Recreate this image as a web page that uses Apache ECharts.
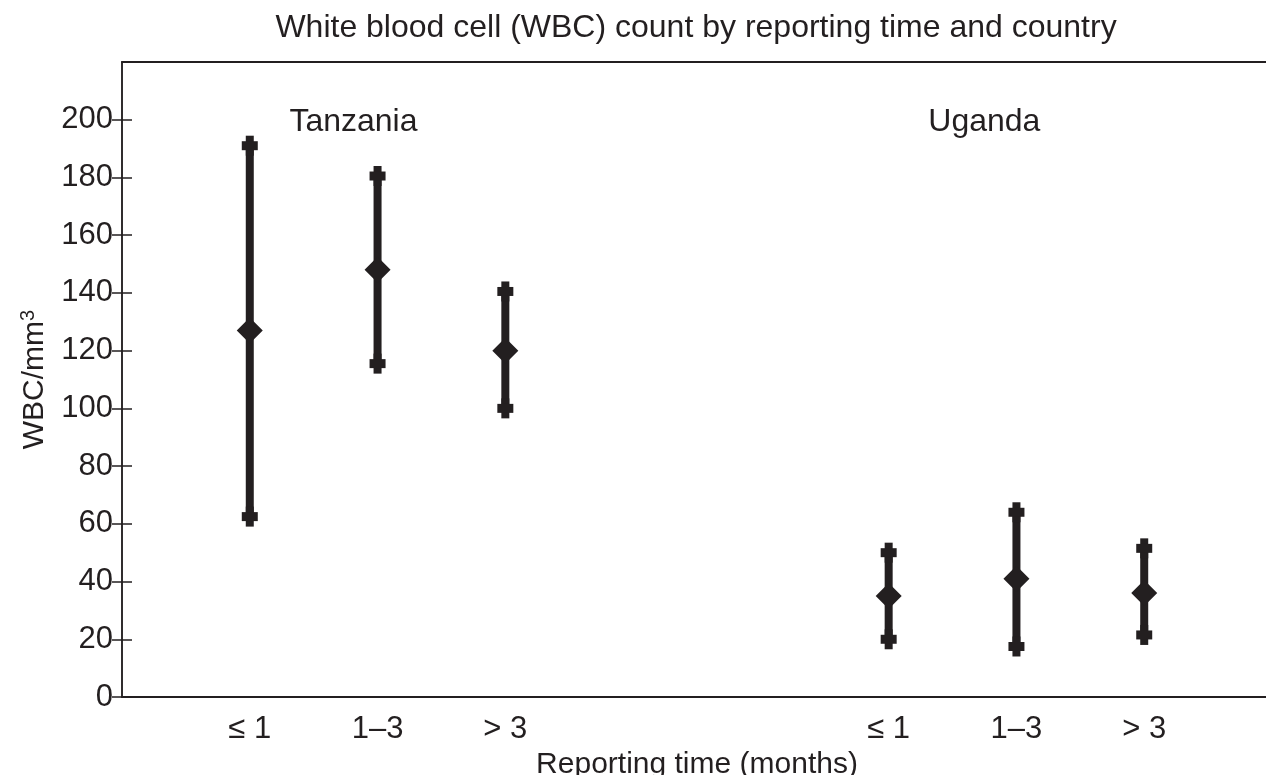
<!DOCTYPE html>
<html>
<head>
<meta charset="utf-8">
<script src="https://cdn.jsdelivr.net/npm/echarts@6/dist/echarts.min.js"></script>
<style>
html,body{margin:0;padding:0;background:#fff;overflow:hidden;}
#chart{width:1266px;height:775px;}
</style>
</head>
<body>
<div id="chart"></div>
<script>
const positions = [1, 2, 3, 6, 7, 8];
const tickLabels = ['≤ 1', '1–3', '> 3', '≤ 1', '1–3', '> 3'];
const countries = ['Tanzania', 'Uganda'];
const countryLabelX = [1.31, 6.31];
const countryLabelY = [199, 199];
const meanWBC = [127, 148, 120, 35, 41, 36];
const lowWBC = [62.5, 115.5, 100, 20, 17.5, 21.5];
const highWBC = [191, 180.5, 140.5, 50, 64, 51.5];
const yTicks = [0, 20, 40, 60, 80, 100, 120, 140, 160, 180, 200];

const INK = '#231f20';
const FONT = '"Liberation Sans", Arial, Helvetica, sans-serif';

const barData = positions.map((x, i) => [x, lowWBC[i], highWBC[i], meanWBC[i]]);
const labelData = countries.map((c, i) => [countryLabelX[i], countryLabelY[i], i]);

const chart = echarts.init(document.getElementById('chart'));
chart.setOption({
  animation: false,
  backgroundColor: '#fff',
  title: {
    text: 'White blood cell (WBC) count by reporting time and country',
    left: 691, top: 7, textAlign: 'center',
    textStyle: { fontFamily: FONT, fontSize: 32, fontWeight: 'normal', color: INK }
  },
  grid: { left: 122, right: -6, top: 62, bottom: 78, outerBoundsMode: 'none', containLabel: false },
  xAxis: [{
    type: 'value', min: 0, max: 9, interval: 1, position: 'bottom',
    axisLine: { show: true, lineStyle: { color: INK, width: 2 } },
    axisTick: { show: false },
    splitLine: { show: false },
    axisLabel: {
      fontFamily: FONT, fontSize: 31, color: INK, margin: 17,
      customValues: positions,
      formatter: v => { const k = positions.indexOf(v); return k >= 0 ? tickLabels[k] : ''; }
    },
    name: 'Reporting time (months)', nameLocation: 'middle', nameGap: 44,
    nameTextStyle: { fontFamily: FONT, fontSize: 30, color: INK }
  }, {
    type: 'value', min: 0, max: 9, position: 'top',
    axisLine: { show: true, onZero: false, lineStyle: { color: INK, width: 2 } },
    axisTick: { show: false }, axisLabel: { show: false }, splitLine: { show: false }
  }],
  yAxis: [{
    type: 'value', min: 0, max: 220, interval: 20, position: 'left',
    axisLine: { show: true, lineStyle: { color: INK, width: 1.5 } },
    axisTick: { show: true, inside: true, length: 10, customValues: yTicks, lineStyle: { color: INK, width: 1.5 } },
    splitLine: { show: false },
    axisLabel: {
      fontFamily: FONT, fontSize: 31, color: INK, margin: 9,
      customValues: yTicks,
      formatter: v => String(v)
    },
    name: '{a|WBC/mm}{s|3}', nameLocation: 'middle', nameGap: 70, nameRotate: 90,
    nameTextStyle: {
      fontFamily: FONT, fontSize: 30, color: INK,
      rich: {
        a: { fontFamily: FONT, fontSize: 30, color: INK },
        s: { fontFamily: FONT, fontSize: 20, color: INK, verticalAlign: 'top', padding: [0, 0, 14, 0] }
      }
    }
  }, {
    type: 'value', min: 0, max: 220, interval: 20, position: 'right',
    axisLine: { show: true, lineStyle: { color: INK, width: 1.5 } },
    axisTick: { show: true, inside: true, length: 10, customValues: yTicks, lineStyle: { color: INK, width: 1.5 } },
    axisLabel: { show: false }, splitLine: { show: false }
  }],
  series: [{
    type: 'custom',
    xAxisIndex: 0, yAxisIndex: 0,
    data: barData,
    renderItem: (params, api) => {
      const x = api.value(0);
      const pLo = api.coord([x, api.value(1)]);
      const pHi = api.coord([x, api.value(2)]);
      const pM = api.coord([x, api.value(3)]);
      const st = { fill: INK };
      const cross = p => [
        { type: 'rect', shape: { x: p[0] - 4, y: p[1] - 10, width: 8, height: 20 }, style: st },
        { type: 'rect', shape: { x: p[0] - 8, y: p[1] - 4.5, width: 16, height: 9 }, style: st }
      ];
      return {
        type: 'group',
        children: [
          { type: 'rect', shape: { x: pHi[0] - 4, y: pHi[1], width: 8, height: pLo[1] - pHi[1] }, style: st },
          ...cross(pHi), ...cross(pLo),
          { type: 'polygon', shape: { points: [[pM[0], pM[1] - 13], [pM[0] + 13, pM[1]], [pM[0], pM[1] + 13], [pM[0] - 13, pM[1]]] }, style: st }
        ]
      };
    },
    z: 3
  }, {
    type: 'custom',
    xAxisIndex: 0, yAxisIndex: 0,
    data: labelData,
    renderItem: (params, api) => {
      const p = api.coord([api.value(0), api.value(1)]);
      return {
        type: 'text',
        x: p[0], y: p[1],
        style: {
          text: countries[api.value(2)],
          fill: INK, fontFamily: FONT, fontSize: 32,
          align: 'left', verticalAlign: 'middle'
        }
      };
    },
    z: 4
  }]
});
</script>
</body>
</html>
